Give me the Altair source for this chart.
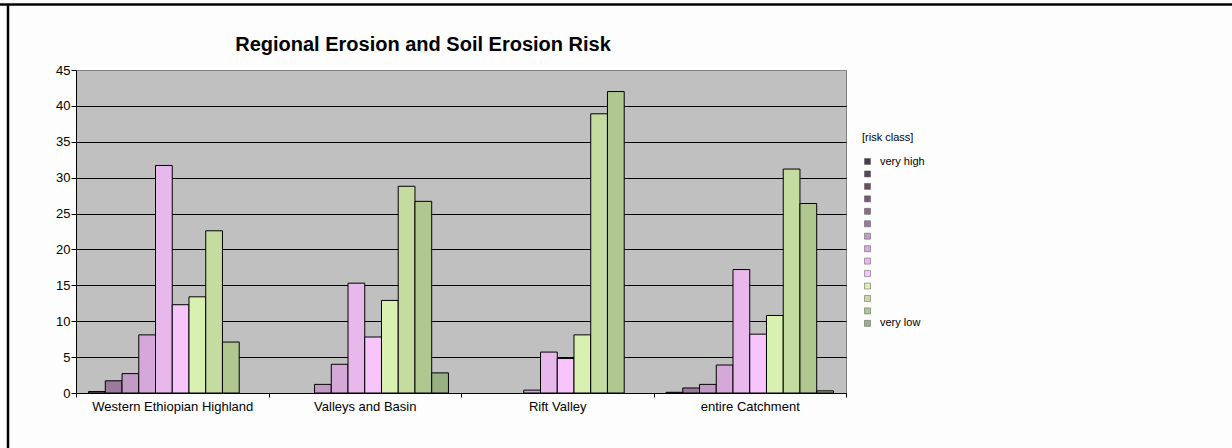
import altair as alt
import pandas as pd

# Regions (x categories)
regions = ["Western Ethiopian Highland", "Valleys and Basin", "Rift Valley", "entire Catchment"]

# Risk classes, 1 = very high ... 14 = very low
risk_classes = [str(i) for i in range(1, 15)]
class_colors = [
    "#4b3a4b", "#5a4558", "#684d67", "#7a5878", "#8c6a8c", "#9b7a9d", "#c29ac6",
    "#d6a8da", "#e8b8ec", "#f8c4fc", "#d8f0b0", "#c4dca0", "#b0c890", "#99b082",
]

# Classes that carry area shares in the regions
plotted_classes = risk_classes[4:]

# Share of area [%] per risk class (classes 5..14)
western_highland = [0.2, 1.7, 2.7, 8.1, 31.7, 12.3, 13.4, 22.6, 7.1, 0.0]
valleys_basin = [0.0, 0.0, 1.2, 4.0, 15.3, 7.8, 12.9, 28.8, 26.7, 2.8]
rift_valley = [0.0, 0.0, 0.0, 0.4, 5.7, 4.8, 8.1, 38.9, 42.0, 0.0]
entire_catchment = [0.1, 0.7, 1.2, 3.9, 17.2, 8.2, 10.8, 31.2, 26.4, 0.3]

y_ticks = list(range(0, 46, 5))

chart_title = "Regional Erosion and Soil Erosion Risk"

rows = []
for region, vals in zip(regions, [western_highland, valleys_basin, rift_valley, entire_catchment]):
    for cls, v in zip(plotted_classes, vals):
        rows.append({"region": region, "cls": cls, "value": v})
df = pd.DataFrame(rows)

FONT = "Liberation Sans"

bars = alt.Chart(df).transform_filter("datum.value > 0").mark_bar(
    stroke="black", strokeWidth=1
).encode(
    x=alt.X(
        "region:N",
        sort=regions,
        scale=alt.Scale(domain=regions, paddingInner=0, paddingOuter=0),
        axis=alt.Axis(
            title=None, labelAngle=0, tickBand="extent", tickSize=4,
            domainColor="black", tickColor="black", labelColor="black",
            labelFont=FONT, labelFontSize=13, labelPadding=3, grid=False,
        ),
    ),
    xOffset=alt.XOffset(
        "cls:N",
        scale=alt.Scale(domain=plotted_classes, paddingInner=0, paddingOuter=0.75),
    ),
    y=alt.Y(
        "value:Q",
        scale=alt.Scale(domain=[0, 45], nice=False),
        axis=alt.Axis(
            title=None, values=y_ticks, grid=True,
            gridColor={"condition": {"test": "datum.value == 45", "value": "#808080"}, "value": "black"},
            gridWidth=1, tickSize=5, tickColor="black", domainColor="black",
            labelColor="black", labelFont=FONT, labelFontSize=13, labelPadding=1,
        ),
    ),
    color=alt.Color(
        "cls:N",
        scale=alt.Scale(domain=risk_classes, range=class_colors),
        legend=alt.Legend(
            title="[risk class]", orient="none", legendX=786, legendY=62,
            titleFont=FONT, titleFontSize=11, titleFontWeight="normal", titleColor="black",
            titlePadding=13, labelFont=FONT, labelFontSize=11, labelColor="black",
            labelExpr="datum.value == '1' ? 'very high' : datum.value == '14' ? 'very low' : ''",
            symbolType="square", symbolSize=36, symbolStrokeWidth=0.5,
            symbolStrokeColor="#555555", symbolOpacity=1, rowPadding=0.45, labelOffset=7,
        ),
    ),
)

frame = pd.DataFrame({"k": [0]})
left_border = alt.Chart(frame).mark_rule(color="black", strokeWidth=2.5).encode(
    x=alt.value(-68), y=alt.value(-66), y2=alt.value(378)
)
top_border = alt.Chart(frame).mark_rule(color="black", strokeWidth=2.5).encode(
    x=alt.value(-76), x2=alt.value(1156), y=alt.value(-65.5)
)
title_text = alt.Chart(frame).mark_text(
    text=chart_title, font=FONT, fontSize=20, fontWeight="bold", color="black",
    align="center", baseline="middle",
).encode(x=alt.value(347), y=alt.value(-25))

chart = alt.layer(bars, left_border, top_border, title_text).properties(
    width=770,
    height=323,
    padding={"left": 76, "top": 70, "right": 386, "bottom": 55},
    autosize=alt.AutoSizeParams(type="none"),
    background="#fdfdfd",
).configure_view(fill="#c0c0c0", stroke="#808080")

chart.save("out.html", embed_options={"renderer": "svg", "actions": False})
